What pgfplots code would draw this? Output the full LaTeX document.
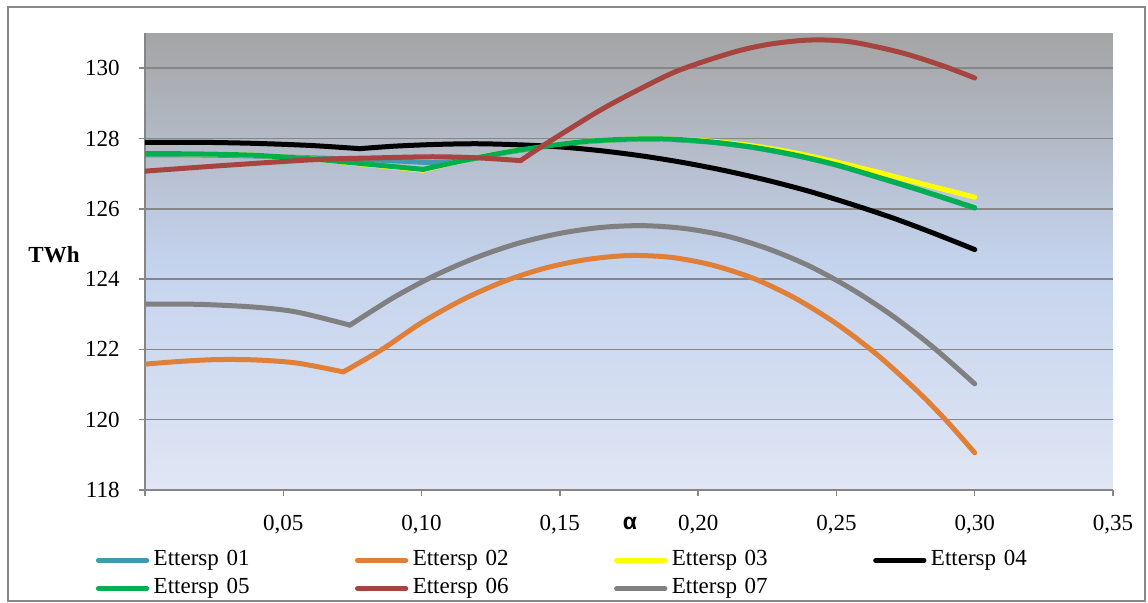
\documentclass[border=0pt]{standalone}
\usepackage{fontspec}
\setmainfont{Liberation Serif}
\newfontfamily\alphafont{Liberation Sans}
\usepackage{pgfplots}
\pgfplotsset{compat=1.18}
\definecolor{c01}{RGB}{65,152,175}
\definecolor{c02}{RGB}{224,128,56}
\definecolor{c03}{RGB}{255,255,0}
\definecolor{c04}{RGB}{0,0,0}
\definecolor{c05}{RGB}{0,176,80}
\definecolor{c06}{RGB}{168,68,64}
\definecolor{c07}{RGB}{128,128,128}
\definecolor{gridc}{RGB}{134,134,134}
\definecolor{framec}{RGB}{137,137,137}
\definecolor{bgtop}{RGB}{164,164,164}
\definecolor{bgmid}{RGB}{196,211,237}
\definecolor{bgbot}{RGB}{224,230,244}
\begin{document}
\begin{tikzpicture}[x=1pt,y=1pt,font=\fontsize{11.5}{13.8}\selectfont]
\useasboundingbox (0,0) rectangle (574,301);
\draw[framec, line width=0.75pt] (4,0.5) rectangle (572.5,297.5);
\begin{axis}[
  at={(72.5pt,56pt)}, anchor=south west,
  scale only axis, width=484pt, height=228.5pt,
  xmin=0, xmax=0.35, ymin=118, ymax=131,
  axis background/.style={top color=bgtop, bottom color=bgbot, middle color=bgmid},
  axis x line*=bottom, axis y line*=left,
  axis line style={gridc, line width=0.75pt, -},
  xtick={0,0.05,0.1,0.15,0.2,0.25,0.3,0.35},
  xticklabels={,{0,05},{0,10},{0,15},{0,20},{0,25},{0,30},{0,35}},
  ytick={118,120,122,124,126,128,130},
  yticklabels={118,120,122,124,126,128,130},
  tick align=outside, major tick length=3pt,
  tick style={gridc, line width=0.75pt},
  ymajorgrids, major grid style={gridc, line width=0.75pt},
  xticklabel style={text height=7.6pt, text depth=0pt, inner sep=0pt, anchor=north},
  xticklabel shift=9.25pt,
  yticklabel style={text height=7.6pt, text depth=0pt, inner sep=0pt, anchor=east},
  yticklabel shift=9.5pt,
  ylabel={\bfseries TWh},
  ylabel style={rotate=-90, at={(axis description cs:-0.094,0.515)}, anchor=center, text height=7.6pt, text depth=0pt, inner sep=0pt},
  xlabel={\alphafont\bfseries α},
  xlabel style={at={(axis description cs:0.501,-0.074)}, anchor=center, text height=5.5pt, text depth=0pt, inner sep=0pt},
  legend columns=4,
  legend cell align=left,
  legend style={at={(axis description cs:-0.0533,-0.1228)}, anchor=north west,
    draw=none, fill=none, inner sep=0pt, outer sep=0pt, column sep=0pt, row sep=0pt,
    nodes={inner xsep=1pt, inner ysep=1.575pt, text height=8pt, text depth=3pt, text width=98.4pt, align=left, anchor=west}},
  legend image code/.code={\path (0pt,0pt) (26.65pt,0pt); \draw[#1, line width=2.5pt, line cap=round] (1.25pt,0pt) -- (25.4pt,0pt);},
  every axis plot/.append style={line width=2.5pt, line join=round, line cap=round, no markers, smooth},
]
% Ettersp 01
\addplot[c01] coordinates {(0,127.53) (0.02,127.53) (0.04,127.50) (0.06,127.45) (0.08,127.40) (0.104,127.31)};
\addlegendentry{Ettersp 01}
\addplot[c01, forget plot] coordinates {(0.104,127.31) (0.115,127.37) (0.13,127.59) (0.145,127.77) (0.16,127.91) (0.175,127.97) (0.19,127.97) (0.205,127.89) (0.22,127.74) (0.235,127.52) (0.25,127.24) (0.265,126.89) (0.28,126.53) (0.30,126.02)};
% Ettersp 02
\addplot[c02] coordinates {(0,121.58) (0.013,121.66) (0.026,121.71) (0.04,121.70) (0.055,121.61) (0.0717,121.36)};
\addlegendentry{Ettersp 02}
\addplot[c02, forget plot] coordinates {(0.0717,121.36) (0.0857,122.00) (0.10,122.76) (0.115,123.42) (0.13,123.94) (0.145,124.32) (0.16,124.56) (0.175,124.67) (0.19,124.62) (0.205,124.40) (0.22,124.02) (0.235,123.46) (0.25,122.73) (0.265,121.83) (0.28,120.76) (0.29,119.95) (0.30,119.06)};
% Ettersp 03
\addplot[c03] coordinates {(0,127.57) (0.02,127.56) (0.04,127.52) (0.06,127.42) (0.075,127.30) (0.1006,127.10)};
\addlegendentry{Ettersp 03}
\addplot[c03, forget plot] coordinates {(0.1006,127.10) (0.115,127.37) (0.13,127.60) (0.145,127.78) (0.16,127.92) (0.175,127.98) (0.19,127.98) (0.205,127.92) (0.22,127.79) (0.235,127.59) (0.25,127.33) (0.265,127.04) (0.28,126.73) (0.30,126.33)};
% Ettersp 04
\addplot[c04] coordinates {(0,127.89) (0.02,127.89) (0.04,127.86) (0.06,127.80) (0.0777,127.71)};
\addlegendentry{Ettersp 04}
\addplot[c04, forget plot] coordinates {(0.0777,127.71) (0.09,127.78) (0.105,127.83) (0.12,127.85) (0.135,127.82) (0.15,127.76) (0.165,127.65) (0.18,127.50) (0.195,127.31) (0.21,127.08) (0.225,126.81) (0.24,126.50) (0.255,126.14) (0.27,125.75) (0.285,125.31) (0.30,124.84)};
% Ettersp 05
\addplot[c05] coordinates {(0,127.57) (0.02,127.56) (0.04,127.52) (0.06,127.42) (0.075,127.31) (0.1006,127.12)};
\addlegendentry{Ettersp 05}
\addplot[c05, forget plot] coordinates {(0.1006,127.12) (0.115,127.37) (0.13,127.60) (0.145,127.78) (0.16,127.92) (0.175,127.98) (0.19,127.98) (0.205,127.90) (0.22,127.75) (0.235,127.53) (0.25,127.25) (0.265,126.90) (0.28,126.54) (0.30,126.03)};
% Ettersp 06
\addplot[c06] coordinates {(0,127.07) (0.03,127.24) (0.062,127.40) (0.085,127.45) (0.104,127.48) (0.12,127.45) (0.1358,127.37)};
\addlegendentry{Ettersp 06}
\addplot[c06, forget plot] coordinates {(0.1358,127.37) (0.145,127.85) (0.1645,128.80) (0.18,129.45) (0.1934,129.95) (0.2126,130.45) (0.2257,130.68) (0.2404,130.80) (0.255,130.75) (0.273,130.45) (0.288,130.08) (0.30,129.72)};
% Ettersp 07
\addplot[c07] coordinates {(0,123.29) (0.02,123.28) (0.04,123.20) (0.055,123.06) (0.0741,122.69)};
\addlegendentry{Ettersp 07}
\addplot[c07, forget plot] coordinates {(0.0741,122.69) (0.09,123.48) (0.105,124.11) (0.12,124.62) (0.135,125.02) (0.15,125.30) (0.165,125.47) (0.18,125.52) (0.195,125.44) (0.21,125.23) (0.225,124.87) (0.24,124.38) (0.255,123.74) (0.27,122.97) (0.285,122.06) (0.30,121.02)};
\end{axis}
\end{tikzpicture}
\end{document}
